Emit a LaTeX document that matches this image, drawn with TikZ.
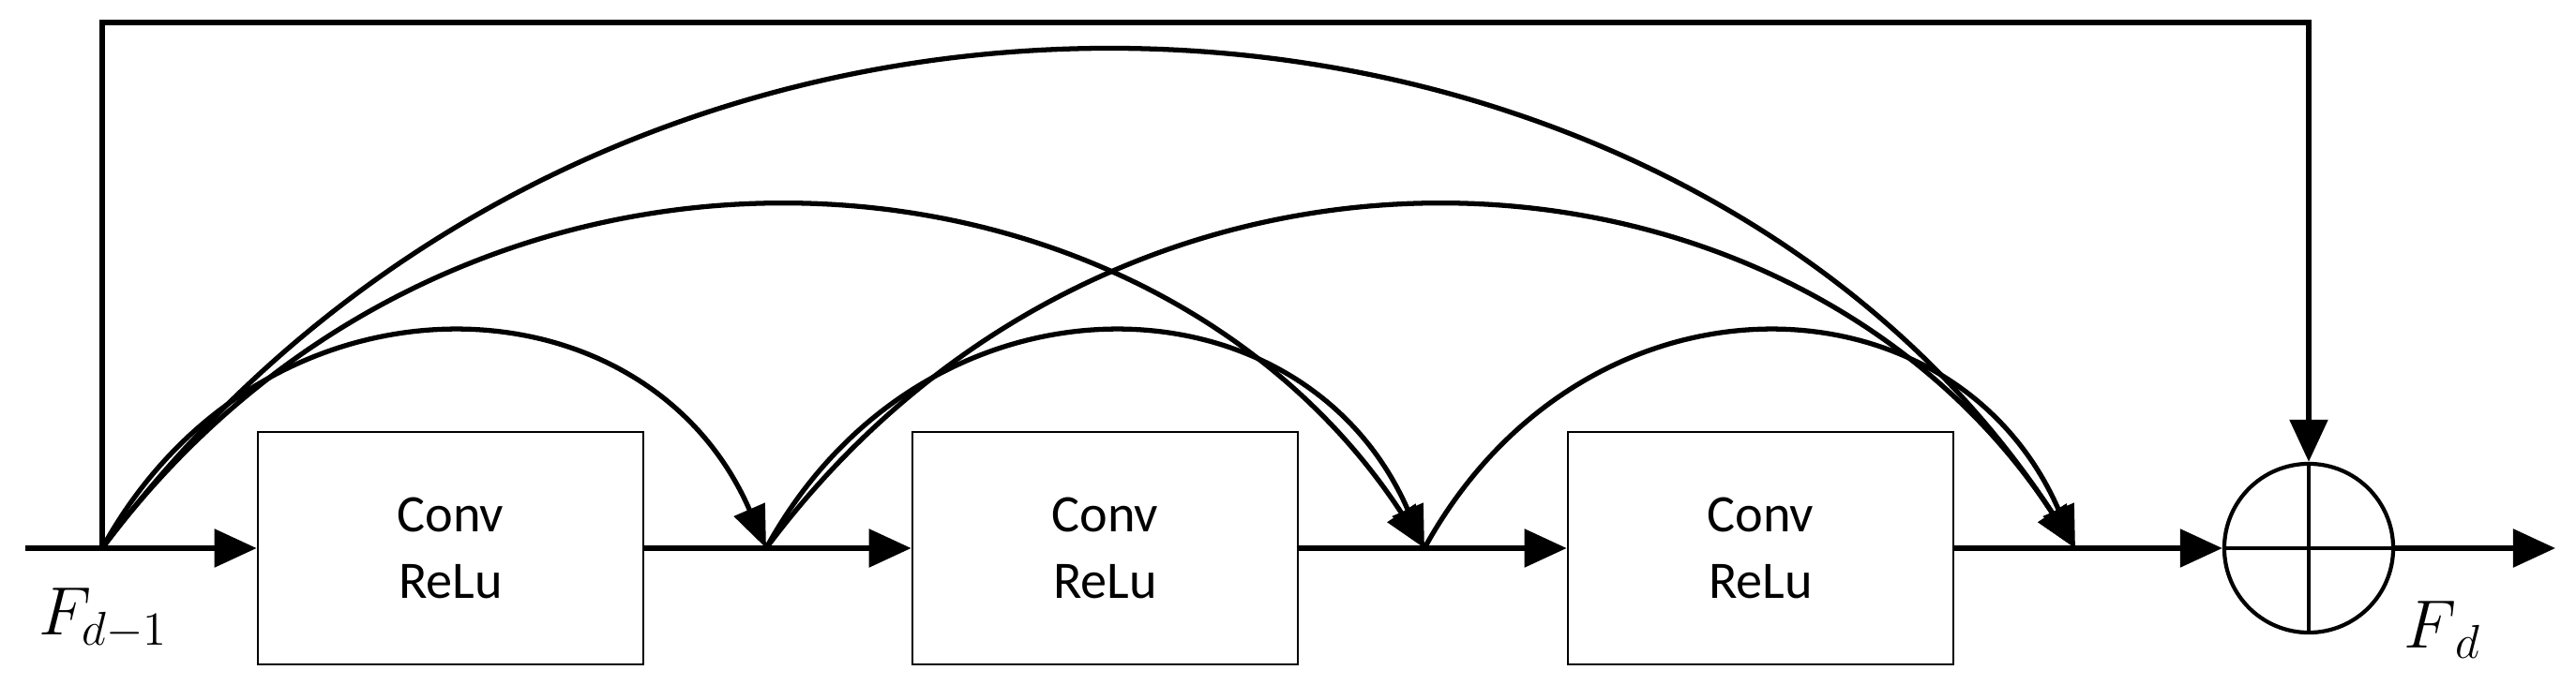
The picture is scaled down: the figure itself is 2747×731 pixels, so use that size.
\documentclass[tikz,border=0pt]{standalone}
\usepackage{fontspec}
\newfontfamily\boxfont{Carlito}
\usetikzlibrary{arrows.meta}
\begin{document}
\begin{tikzpicture}[x=0.01cm,y=-0.01cm,
  flow/.style={line width=1.6pt,-{Triangle[length=0.45cm,width=0.4cm]}},
  arc/.style={line width=1.5pt,-{Triangle[length=0.45cm,width=0.35cm]}},
  blk/.style={draw,line width=0.7pt,minimum width=4.11cm,minimum height=2.48cm,inner sep=0pt,
    font=\boxfont\fontsize{16}{20}\selectfont,align=center}]
\useasboundingbox (0,0) rectangle (2747,731);
\coordinate (in) at (27,585);
\coordinate (A) at (109,585);
\coordinate (B) at (817,585);
\coordinate (C) at (1519,585);
\coordinate (D) at (2213,585);
\coordinate (out) at (2725,585);
\coordinate (T1) at (109,24);
\coordinate (T2) at (2462,24);
\node[blk] (b1) at (480.5,585) {Conv\\ReLu};
\node[blk] (b2) at (1178.5,585) {Conv\\ReLu};
\node[blk] (b3) at (1877.5,585) {Conv\\ReLu};
\node[draw,circle,line width=1.2pt,minimum size=1.8cm,inner sep=0pt] (s) at (2462,585) {};
\draw[line width=1pt] (s.north) -- (s.south) (s.west) -- (s.east);
% main flow
\draw[line width=1.6pt] (in) -- (A);
\draw[flow] (A) -- (b1.west);
\draw[line width=1.6pt] (b1.east) -- (B);
\draw[flow] (B) -- (b2.west);
\draw[line width=1.6pt] (b2.east) -- (C);
\draw[flow] (C) -- (b3.west);
\draw[line width=1.6pt] (b3.east) -- (D);
\draw[flow] (D) -- (s.west);
\draw[flow] (s.east) -- (out);
\draw[flow] (A) -- (T1) -- (T2) -- (s.north);
% skip arcs
\draw[arc] (A) .. controls +(170,-310) and +(-130,-300) .. (B);
\draw[arc] (A) .. controls +(380,-510) and +(-300,-460) .. (C);
\draw[arc] (A) .. controls +(560,-750) and +(-430,-660) .. (D);
\draw[arc] (B) .. controls +(170,-310) and +(-130,-300) .. (C);
\draw[arc] (B) .. controls +(380,-510) and +(-300,-460) .. (D);
\draw[arc] (C) .. controls +(170,-310) and +(-130,-300) .. (D);
\node[font=\fontsize{22}{24}\selectfont] (l1) at (110,660) {$F_{d-1}$};
\node[font=\fontsize{22}{24}\selectfont] (l2) at (2605,672) {$F_{\,d}$};
\end{tikzpicture}
\end{document}
